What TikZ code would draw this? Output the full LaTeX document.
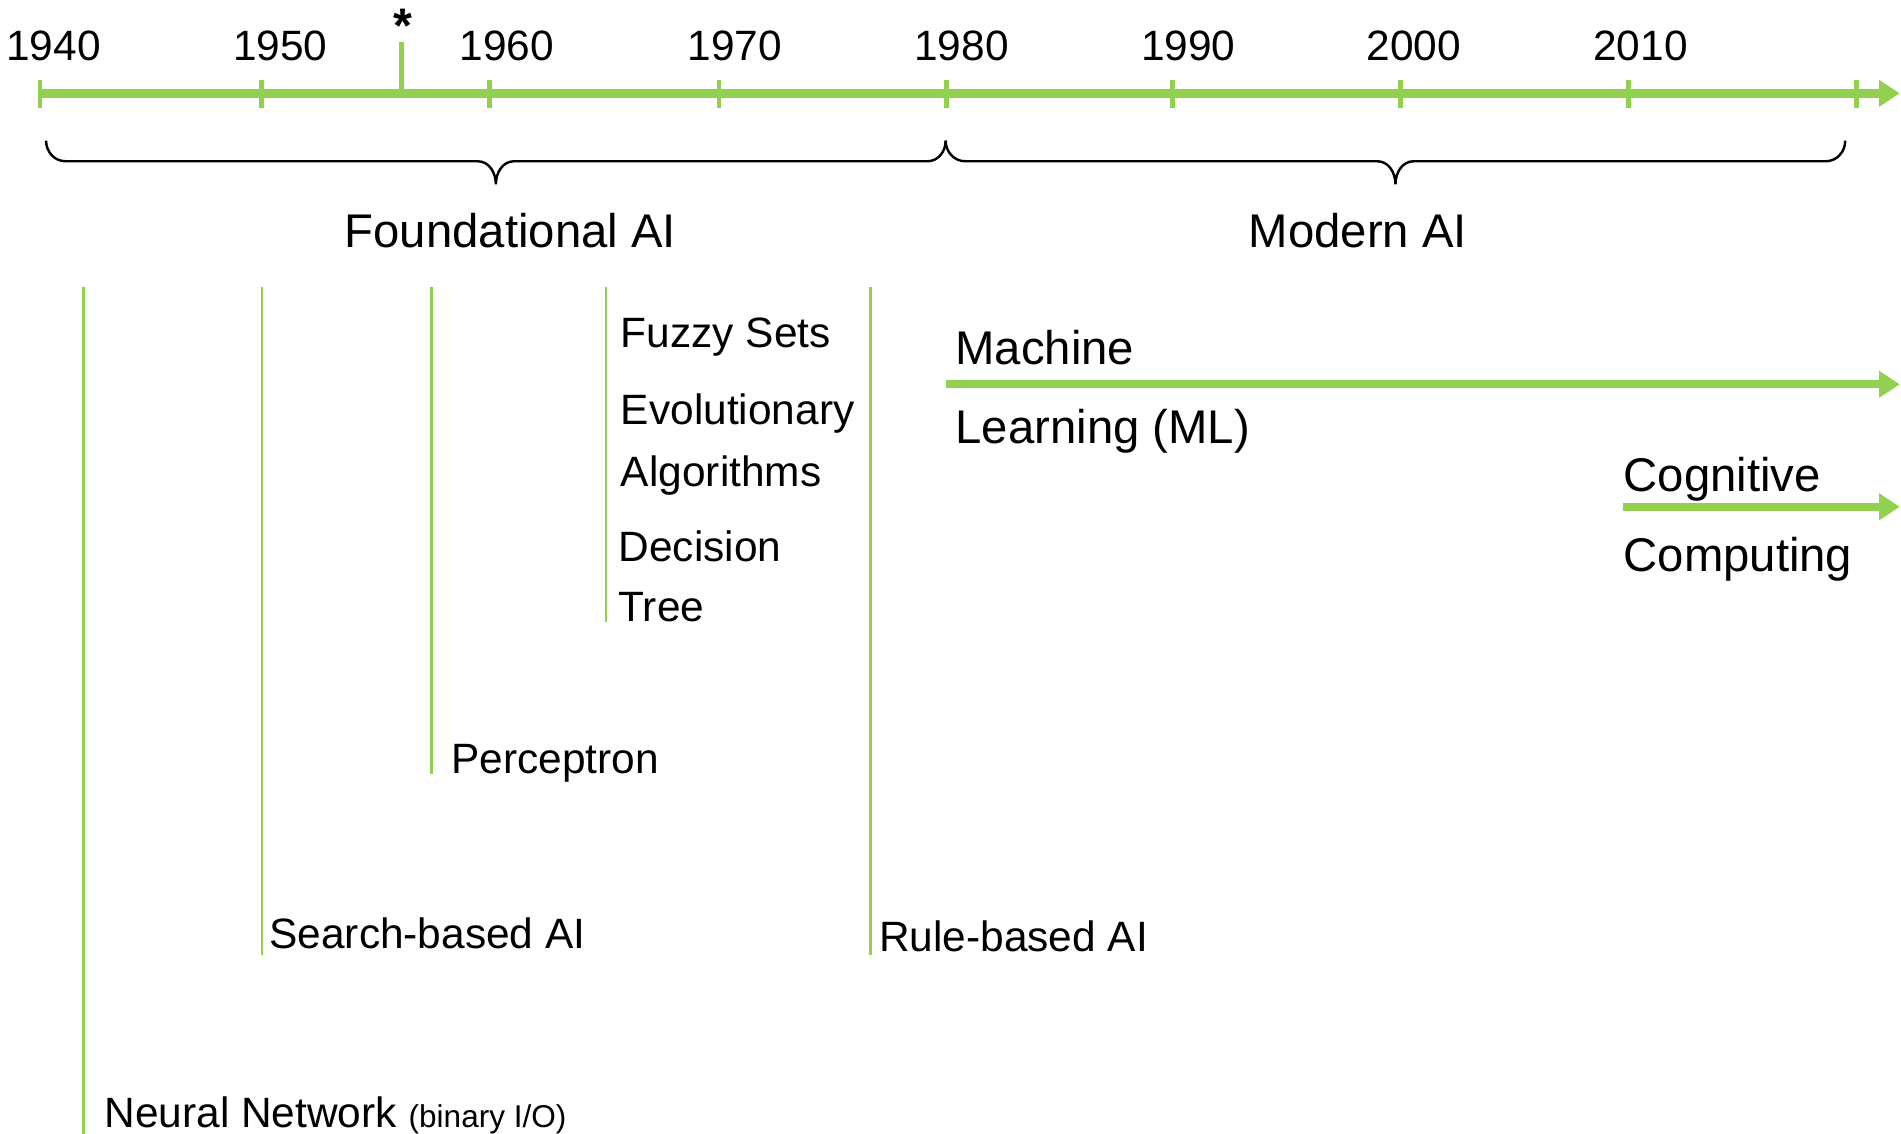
\documentclass[tikz,border=0pt]{standalone}
\usepackage{fontspec}
\setmainfont{Liberation Sans}
\usetikzlibrary{arrows.meta}
\definecolor{grn}{HTML}{92D050}
\begin{document}
\begin{tikzpicture}[x=1pt,y=-1pt,
  txt/.style={anchor=base west, inner sep=0pt, font=\fontsize{35}{42}\selectfont},
  bigtxt/.style={anchor=base west, inner sep=0pt, font=\fontsize{39}{46}\selectfont},
  yr/.style={anchor=base west, inner sep=0pt, font=\fontsize{35}{42}\selectfont},
  era/.style={anchor=base, inner sep=0pt, font=\fontsize{39}{46}\selectfont},
  axis/.style={draw=grn, line width=7pt, -{Triangle[length=17pt,width=21pt]}},
  tick/.style={draw=grn, line width=4pt},
  vline/.style={draw=grn, line width=2pt},
  brace/.style={draw=black, line width=2pt}]
\useasboundingbox (0,0) rectangle (1568,935);
% axis
\coordinate (a0) at (31,77);
\coordinate (a1) at (1567,77);
\draw[axis] (a0) -- (a1);
\foreach \x [count=\i] in {33,216,404,593,781,967,1155,1343,1531}{
  \coordinate (t\i) at (\x,66);
  \coordinate (b\i) at (\x,89);
  \draw[tick] (t\i) -- (b\i);
}
\coordinate (st) at (331,35);
\coordinate (sb) at (331,77);
\draw[tick] (st) -- (sb);
\node[anchor=base, inner sep=0pt, font=\fontsize{40}{46}\selectfont\bfseries] (star) at (332,35) {*};
% year labels
\node[yr] (y1940) at (5,50) {1940};
\node[yr] (y1950) at (192,50) {1950};
\node[yr] (y1960) at (379,50) {1960};
\node[yr] (y1970) at (567,50) {1970};
\node[yr] (y1980) at (754,50) {1980};
\node[yr] (y1990) at (941,50) {1990};
\node[yr] (y2000) at (1127,50) {2000};
\node[yr] (y2010) at (1314,50) {2010};
% braces
\draw[brace] (38,116) to[out=-90,in=180] (54,133) -- (394,133)
  to[out=0,in=90] (409,152) to[out=90,in=180] (424,133) -- (765,133)
  to[out=0,in=-90] (780,116);
\draw[brace] (780,116) to[out=-90,in=180] (796,133) -- (1136,133)
  to[out=0,in=90] (1151,152) to[out=90,in=180] (1166,133) -- (1506,133)
  to[out=0,in=-90] (1522,116);
\node[era] (found) at (421,204) {Foundational AI};
\node[era] (modern) at (1120,204) {Modern AI};
% vertical lines
\coordinate (n1) at (69,237);  \coordinate (n2) at (69,935);
\coordinate (s1) at (216,237); \coordinate (s2) at (216,788);
\coordinate (p1) at (356,237); \coordinate (p2) at (356,638);
\coordinate (f1) at (500,237); \coordinate (f2) at (500,513);
\coordinate (r1) at (718,237); \coordinate (r2) at (718,788);
\draw[vline] (n1) -- (n2);
\draw[vline] (s1) -- (s2);
\draw[vline] (p1) -- (p2);
\draw[vline] (f1) -- (f2);
\draw[vline] (r1) -- (r2);
% labels
\node[txt] (fuzzy) at (512,287) {Fuzzy Sets};
\node[txt] (evo) at (512,350) {Evolutionary};
\node[txt] (alg) at (512,401) {Algorithms};
\node[txt] (dec) at (510,463) {Decision};
\node[txt] (tree) at (510,513) {Tree};
\node[txt] (perc) at (372,638) {Perceptron};
\node[txt] (search) at (222,782) {Search-based AI};
\node[txt] (rule) at (725,785) {Rule-based AI};
\node[txt] (neural) at (86,930) {Neural Network {\fontsize{26}{30}\selectfont (binary I/O)}};
% ML arrow
\node[bigtxt] (mach) at (788,301) {Machine};
\node[bigtxt] (learn) at (788,366) {Learning (ML)};
\coordinate (m1) at (780,317);
\coordinate (m2) at (1567,317);
\draw[axis, line width=6.5pt] (m1) -- (m2);
% cognitive arrow
\node[bigtxt] (cog) at (1339,405) {Cognitive};
\node[bigtxt] (comp) at (1339,471) {Computing};
\coordinate (c1) at (1339,418);
\coordinate (c2) at (1567,418);
\draw[axis, line width=6.5pt] (c1) -- (c2);
\end{tikzpicture}
\end{document}
